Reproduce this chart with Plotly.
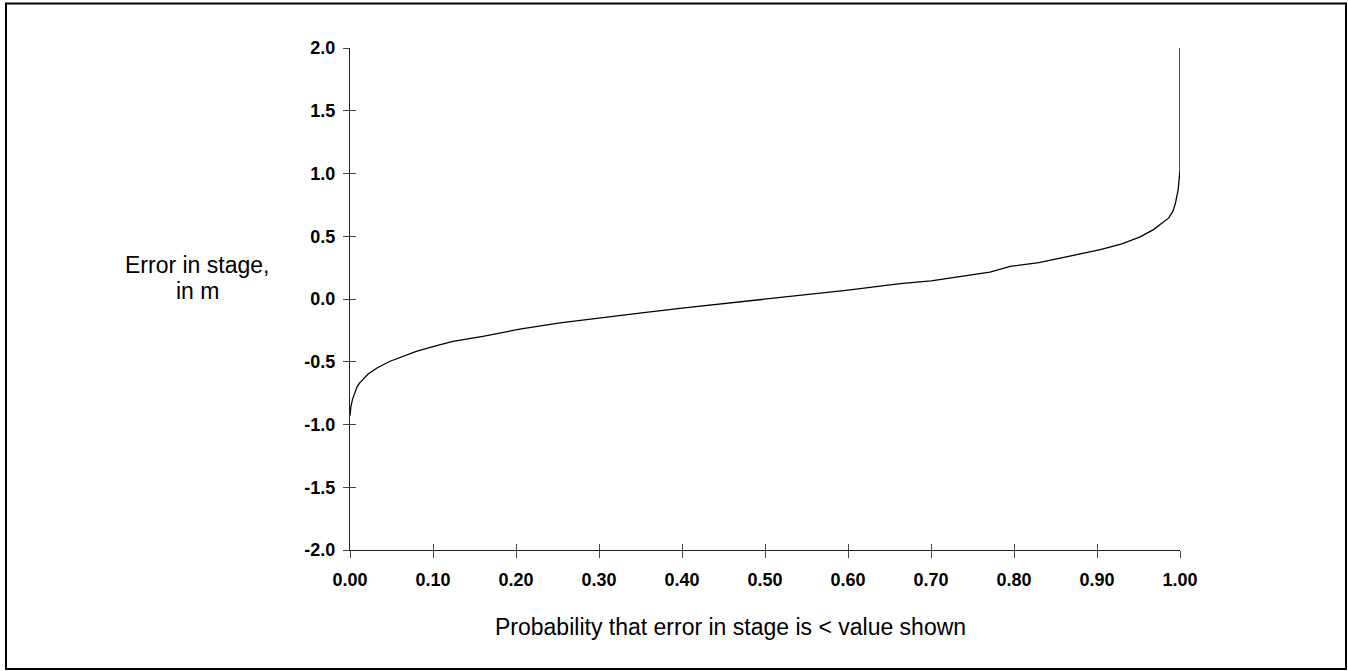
import plotly.graph_objects as go

# Data
prob = [0.0, 0.001, 0.003, 0.0055, 0.0085, 0.0115, 0.016, 0.0215, 0.028, 0.0336,
        0.0476, 0.06, 0.0798, 0.10, 0.124, 0.16, 0.2045, 0.253, 0.30, 0.349,
        0.40, 0.45, 0.50, 0.55, 0.60, 0.663, 0.70, 0.771, 0.7955, 0.83,
        0.864, 0.904, 0.93, 0.952, 0.968, 0.978, 0.9865, 0.9915, 0.9946, 0.9978,
        0.9993, 1.0, 1.0]
err = [-0.93, -0.86, -0.80, -0.75, -0.70, -0.67, -0.64, -0.60, -0.57, -0.546,
       -0.498, -0.465, -0.418, -0.38, -0.338, -0.298, -0.24, -0.19, -0.15, -0.112,
       -0.072, -0.038, -0.003, 0.033, 0.07, 0.122, 0.145, 0.215, 0.26, 0.29,
       0.335, 0.393, 0.44, 0.495, 0.553, 0.60, 0.646, 0.70, 0.766, 0.872,
       0.95, 1.03, 2.0]

x_tick_vals = [0.0, 0.1, 0.2, 0.3, 0.4, 0.5, 0.6, 0.7, 0.8, 0.9, 1.0]
x_tick_text = ["0.00", "0.10", "0.20", "0.30", "0.40", "0.50", "0.60", "0.70", "0.80", "0.90", "1.00"]
y_tick_vals = [2.0, 1.5, 1.0, 0.5, 0.0, -0.5, -1.0, -1.5, -2.0]
y_tick_text = ["2.0", "1.5", "1.0", "0.5", "0.0", "-0.5", "-1.0", "-1.5", "-2.0"]

x_title = "Probability that error in stage is < value shown"
y_title_lines = ["Error in stage,", "in m"]

W, H = 1348, 671
ML, MT = 350, 48
MR = W - 1180
MB = H - 550
PW, PH = W - ML - MR, H - MT - MB


def sx(px):
    return (px - ML) / PW


def sy(py):
    return (H - MB - py) / PH


fig = go.Figure()
fig.add_trace(go.Scatter(x=prob, y=err, mode="lines",
                         line=dict(color="black", width=1.3),
                         showlegend=False, hoverinfo="skip"))
# invisible trace for overlay axes (inside half of crossing ticks)
fig.add_trace(go.Scatter(x=[0, 1], y=[-2, 2], xaxis="x2", yaxis="y2", mode="none",
                         showlegend=False, hoverinfo="skip"))

tick_font = dict(family="Liberation Sans, Arial, sans-serif", size=18,
                 color="black", weight="bold")

fig.update_layout(
    width=W, height=H,
    margin=dict(l=ML, r=MR, t=MT, b=MB, autoexpand=False),
    paper_bgcolor="white", plot_bgcolor="white",
    font=dict(family="Liberation Sans, Arial, sans-serif", color="black"),
    xaxis=dict(range=[0, 1], tickvals=x_tick_vals, ticktext=x_tick_text,
               ticks="outside", ticklen=7, tickcolor="#444", tickwidth=1,
               showline=True, linecolor="#222", linewidth=1,
               showgrid=False, zeroline=False,
               tickfont=tick_font, ticklabelstandoff=6),
    yaxis=dict(range=[-2, 2], tickvals=y_tick_vals, ticktext=y_tick_text,
               ticks="outside", ticklen=6, tickcolor="#444", tickwidth=1,
               showline=True, linecolor="#222", linewidth=1,
               showgrid=False, zeroline=False,
               tickfont=tick_font, ticklabelstandoff=4),
    xaxis2=dict(range=[0, 1], overlaying="x", tickvals=x_tick_vals,
                ticks="inside", ticklen=6, tickcolor="#444", tickwidth=1,
                showticklabels=False, showgrid=False, zeroline=False,
                showline=False, side="bottom", anchor="y2"),
    yaxis2=dict(range=[-2, 2], overlaying="y", tickvals=y_tick_vals,
                ticks="inside", ticklen=6, tickcolor="#444", tickwidth=1,
                showticklabels=False, showgrid=False, zeroline=False,
                showline=False, side="left", anchor="x2"),
)

# border around whole picture
fig.add_shape(type="rect", xref="paper", yref="paper",
              x0=sx(6), x1=sx(1346), y0=sy(669), y1=sy(3.5),
              line=dict(color="black", width=2), layer="above")

title_font = dict(size=23, color="black")
fig.add_annotation(text=x_title, xref="paper", yref="paper",
                   x=sx(730.5), y=sy(627),
                   xanchor="center", yanchor="middle", showarrow=False,
                   font=title_font)
fig.add_annotation(text=y_title_lines[0], xref="paper", yref="paper",
                   x=sx(197), y=sy(265),
                   xanchor="center", yanchor="middle", showarrow=False,
                   font=title_font)
fig.add_annotation(text=y_title_lines[1], xref="paper", yref="paper",
                   x=sx(197), y=sy(291),
                   xanchor="center", yanchor="middle", showarrow=False,
                   font=title_font)

fig.write_html("out.html", config={"displayModeBar": False},
               post_script="document.body.style.margin='0';")
